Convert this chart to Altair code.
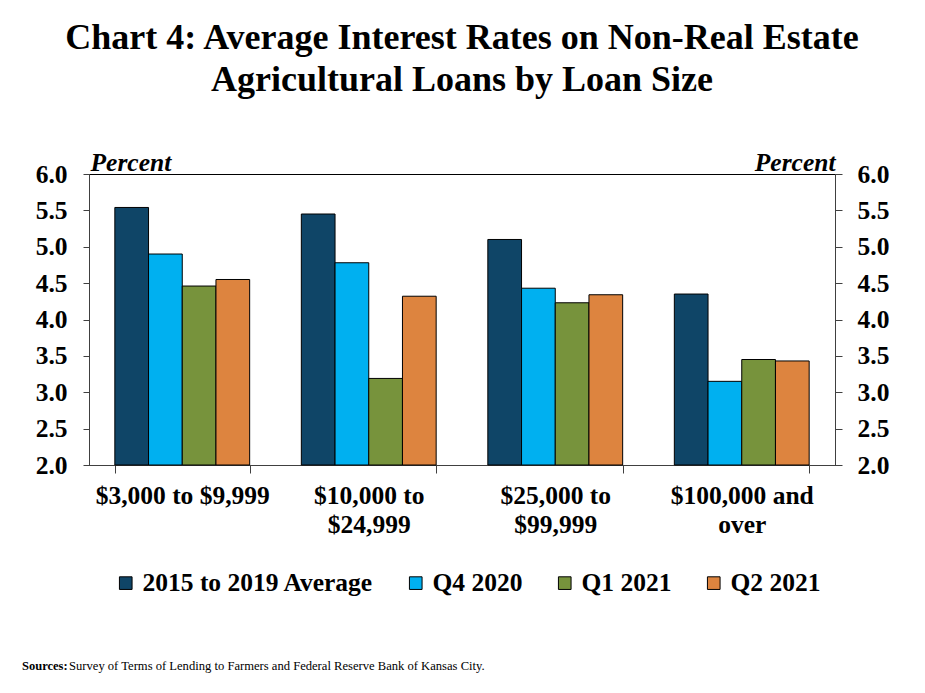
import altair as alt
import pandas as pd

# ---- data ----
categories = ["$3,000 to $9,999", "$10,000 to\n$24,999", "$25,000 to\n$99,999", "$100,000 and\nover"]
series = ["2015 to 2019 Average", "Q4 2020", "Q1 2021", "Q2 2021"]
avg_2015_2019 = [5.54, 5.45, 5.10, 4.35]
q4_2020 = [4.90, 4.78, 4.43, 3.15]
q1_2021 = [4.46, 3.19, 4.23, 3.45]
q2_2021 = [4.55, 4.32, 4.34, 3.43]
colors = ["#0F4567", "#00B0F0", "#77933C", "#DD843F"]
y_ticks = [2.0, 2.5, 3.0, 3.5, 4.0, 4.5, 5.0, 5.5, 6.0]
title_lines = ["Chart 4: Average Interest Rates on Non-Real Estate", "Agricultural Loans by Loan Size"]
sources_label = ["Sources:"]
sources_text = ["Survey of Terms of Lending  to Farmers and Federal Reserve Bank of Kansas City."]

rows = []
for s, vals in zip(series, [avg_2015_2019, q4_2020, q1_2021, q2_2021]):
    for c, v in zip(categories, vals):
        rows.append({"category": c, "series": s, "value": v})
df = pd.DataFrame(rows)

W, H = 746, 291
FONT = "Liberation Serif"
FS = 25.5

yscale = alt.Scale(domain=[2, 6], zero=False, nice=False)

x_enc = alt.X(
    "category:N", sort=categories,
    scale=alt.Scale(paddingInner=0.277, paddingOuter=0.1385),
    axis=alt.Axis(title=None, labelAngle=0, labelExpr="split(datum.label, '\\n')",
                  tickBand="extent", tickSize=8, labelPadding=10, labelLineHeight=29,
                  labelFont=FONT, labelFontSize=FS, labelFontWeight="bold", labelColor="black",
                  labelLimit=400, domainColor="#404040", tickColor="#404040"),
)

left_axis = alt.Axis(values=y_ticks, format=".1f", orient="left", grid=False,
                     tickSize=6, labelPadding=16, title="Percent", titleAngle=0,
                     titleAlign="left", titleX=1, titleY=-4, titleBaseline="alphabetic",
                     titleFont=FONT, titleFontSize=FS, titleFontStyle="italic",
                     titleFontWeight="bold", titleColor="black")
right_axis = alt.Axis(values=y_ticks, format=".1f", orient="right", grid=False,
                      tickSize=7, labelPadding=15, title="Percent", titleAngle=0,
                      titleAlign="right", titleX=0, titleY=-4, titleBaseline="alphabetic",
                      titleFont=FONT, titleFontSize=FS, titleFontStyle="italic",
                      titleFontWeight="bold", titleColor="black")

bars = alt.Chart(df).mark_bar(stroke="black", strokeWidth=1).encode(
    x=x_enc,
    xOffset=alt.XOffset("series:N", sort=series, scale=alt.Scale(paddingInner=0, paddingOuter=0)),
    y=alt.Y("value:Q", scale=yscale, axis=left_axis),
    y2=alt.datum(2),
    color=alt.Color("series:N", sort=series,
                    scale=alt.Scale(domain=series, range=colors),
                    legend=alt.Legend(title=None, orient="none", direction="horizontal",
                                      legendX=24, legendY=396, padding=0,
                                      symbolType="square", symbolSize=160,
                                      symbolStrokeColor="black", symbolStrokeWidth=1,
                                      labelFont=FONT, labelFontSize=25.5, labelFontWeight="bold",
                                      labelColor="black", labelOffset=4, labelLimit=400,
                                      columnPadding=29)),
)

right = alt.Chart(df).mark_tick(opacity=0).encode(
    x=x_enc,
    y=alt.Y("value:Q", scale=yscale, axis=right_axis),
)

src1 = alt.Chart(pd.DataFrame({"t": sources_label})).mark_text(
    align="left", baseline="middle", font=FONT, fontSize=12.5, fontWeight="bold", color="black"
).encode(x=alt.value(-67), y=alt.value(492), text="t:N")

src2 = alt.Chart(pd.DataFrame({"t": sources_text})).mark_text(
    align="left", baseline="middle", font=FONT, fontSize=12.6, color="black"
).encode(x=alt.value(-20), y=alt.value(492), text="t:N")

chart = alt.layer(bars, right, src1, src2).resolve_scale(y="shared").resolve_axis(
    y="independent"
).properties(
    width=W, height=H,
    title=alt.TitleParams(title_lines, font=FONT, fontSize=36, fontWeight="bold",
                          color="black", anchor="middle", lineHeight=42, offset=51),
    padding={"left": 81, "top": 166, "right": 82, "bottom": 210},
    autosize=alt.AutoSizeParams(type="none"),
).configure_view(stroke="black", strokeWidth=1).configure_axis(
    labelFont=FONT, labelFontSize=FS, labelFontWeight="bold", labelColor="black",
    domainColor="#404040", tickColor="#404040",
)

chart.save("out.html", embed_options={"renderer": "svg", "actions": False})
